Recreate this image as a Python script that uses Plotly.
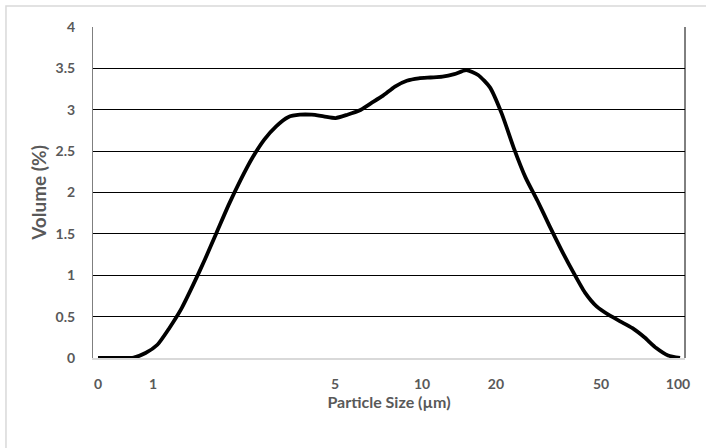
import plotly.graph_objects as go

# Volume (%) for each particle-size bin (bins evenly spaced on the category axis)
volume_pct = [0.0, 0.0, 0.0, 0.005, 0.06, 0.16, 0.36, 0.59, 0.88, 1.19,
              1.52, 1.85, 2.15, 2.42, 2.64, 2.80, 2.91, 2.94, 2.94, 2.92,
              2.90, 2.94, 2.99, 3.08, 3.17, 3.28, 3.35, 3.38, 3.39, 3.40,
              3.43, 3.48, 3.42, 3.27, 2.95, 2.54, 2.18, 1.90, 1.60, 1.31,
              1.04, 0.79, 0.62, 0.52, 0.44, 0.36, 0.25, 0.12, 0.03, 0.0]
bin_index = list(range(len(volume_pct)))

# Particle size labels and their positions along the bin axis
size_tick_pos = [0, 4.63, 19.95, 27.28, 33.5, 42.35, 48.83]
size_tick_labels = ["0", "1", "5", "10", "20", "50", "100"]

y_tick_vals = [0, 0.5, 1, 1.5, 2, 2.5, 3, 3.5, 4]
y_tick_labels = ["0", "0.5", "1", "1.5", "2", "2.5", "3", "3.5", "4"]

font_fam = "Lato, 'Open Sans', sans-serif"
gray = "#595959"

fig = go.Figure()
fig.add_trace(go.Scatter(
    x=bin_index, y=volume_pct, mode="lines",
    line=dict(color="black", width=3.8, shape="spline", smoothing=0.6),
    showlegend=False, hoverinfo="skip",
))

fig.update_layout(
    width=706, height=448,
    margin=dict(l=93, r=21, t=27, b=90),
    paper_bgcolor="white", plot_bgcolor="white",
    font=dict(family=font_fam, color=gray),
    xaxis=dict(
        range=[-0.42, 49.42], tickmode="array",
        tickvals=size_tick_pos, ticktext=size_tick_labels,
        tickfont=dict(size=14, color=gray, family=font_fam, weight="bold"),
        showgrid=False, zeroline=False,
        showline=True, linecolor="#d9d9d9", linewidth=2,
        ticks="", ticklabelstandoff=12,
        title=dict(text="Particle Size (µm)", standoff=4,
                   font=dict(size=16, color=gray, family=font_fam, weight="bold")),
    ),
    yaxis=dict(
        range=[0, 4], tickmode="array",
        tickvals=y_tick_vals, ticktext=y_tick_labels,
        tickfont=dict(size=14, color=gray, family=font_fam, weight="bold"),
        showgrid=True, gridcolor="black", gridwidth=1,
        zeroline=False,
        showline=True, linecolor="#7f7f7f", linewidth=1,
        ticks="", ticklabelstandoff=14,
        title=dict(text="Volume (%)", standoff=3,
                   font=dict(size=19, color=gray, family=font_fam, weight="bold")),
    ),
    shapes=[
        dict(type="line", xref="paper", yref="paper", x0=1, x1=1, y0=0, y1=1,
             line=dict(color="black", width=1)),
        dict(type="rect", xref="paper", yref="paper",
             x0=-0.147, x1=1.06, y0=-0.31, y1=1.0634,
             line=dict(color="#d9d9d9", width=1.5), layer="above"),
    ],
)

fig.write_html("out.html", config={"displayModeBar": False},
               post_script="document.body.style.margin='0';")
